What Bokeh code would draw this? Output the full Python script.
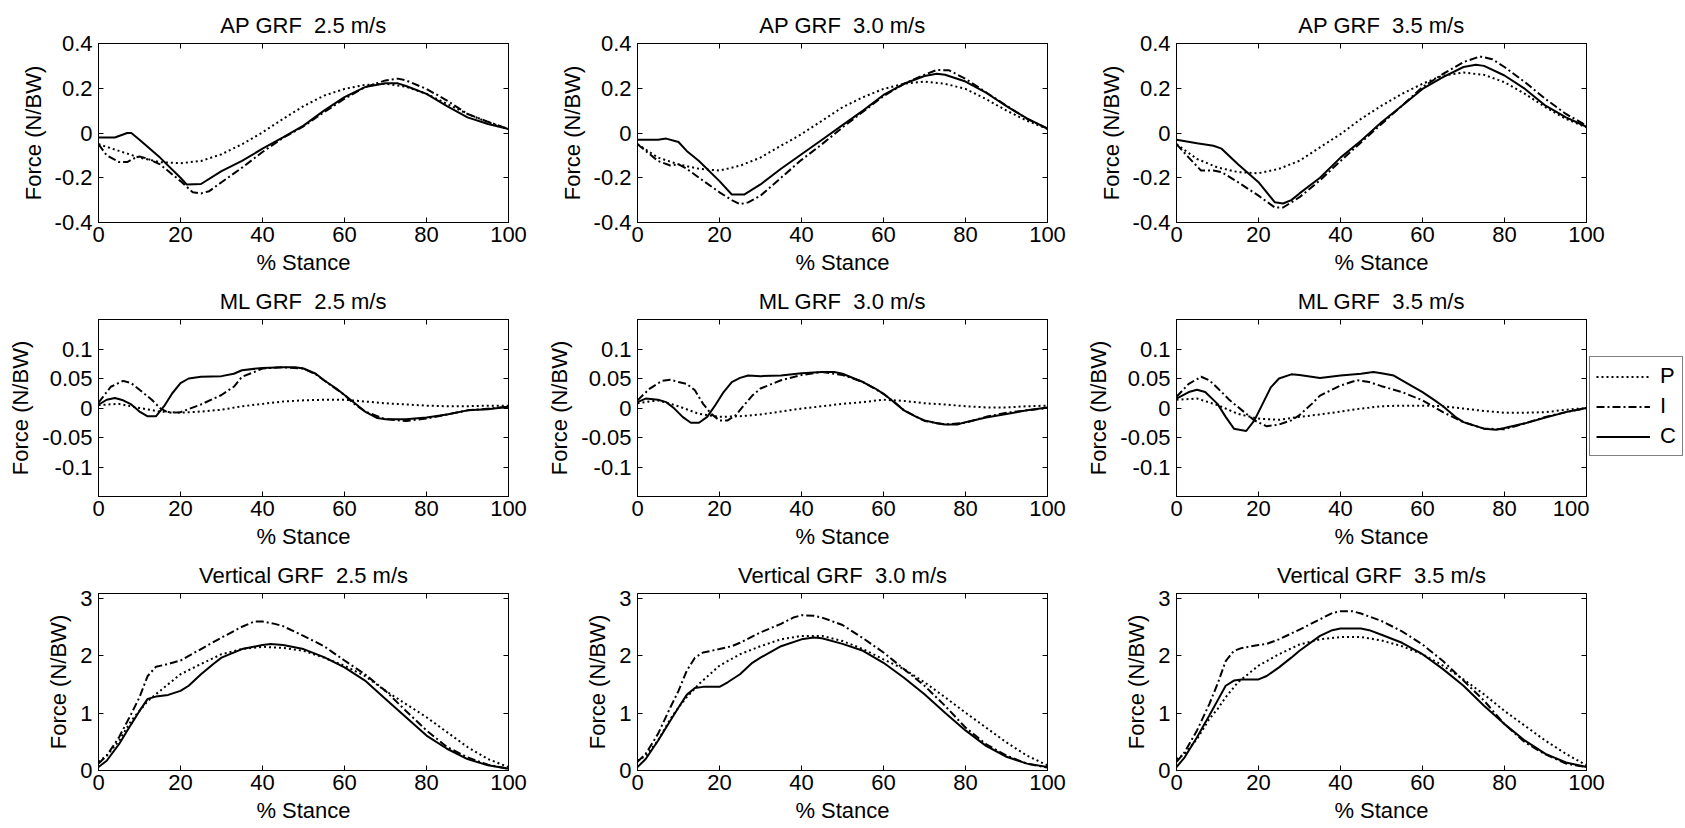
from bokeh.plotting import figure
from bokeh.layouts import column, row
from bokeh.models import (LinearAxis, FixedTicker, CustomJSTickFormatter, Range1d,
                          Legend, LegendItem)
from bokeh.embed import file_html
from bokeh.resources import INLINE

FONT = "Liberation Sans"

speeds = ["2.5", "3.0", "3.5"]
x_ticks = [0, 20, 40, 60, 80, 100]
ap_ticks = [-0.4, -0.2, 0, 0.2, 0.4]
ml_ticks = [-0.1, -0.05, 0, 0.05, 0.1]
vt_ticks = [0, 1, 2, 3]
ap_range = (-0.4, 0.4)
ml_range = (-0.15, 0.15)
vt_range = (0, 3.09)
legend_labels = ["P", "I", "C"]

# ---------------- AP GRF ----------------
AP25_P = [(0,-0.05),(5,-0.08),(10,-0.11),(15,-0.13),(20,-0.135),(25,-0.125),(30,-0.095),(35,-0.05),(40,0.003),(45,0.063),(50,0.12),(55,0.167),(60,0.197),(65,0.215),(70,0.22),(75,0.207),(80,0.175),(85,0.13),(90,0.085),(95,0.048),(100,0.018)]
AP25_I = [(0,-0.05),(2,-0.1),(5,-0.13),(7,-0.13),(9,-0.11),(10,-0.105),(12,-0.115),(15,-0.14),(20,-0.215),(23,-0.265),(25,-0.27),(27,-0.26),(30,-0.22),(35,-0.155),(40,-0.085),(45,-0.022),(50,0.03),(55,0.093),(60,0.153),(65,0.205),(70,0.235),(73,0.243),(75,0.235),(80,0.197),(85,0.145),(90,0.085),(95,0.05),(100,0.018)]
AP25_C = [(0,-0.02),(4,-0.02),(7,0.0),(8,0.0),(10,-0.03),(15,-0.11),(20,-0.2),(21.5,-0.23),(25,-0.228),(30,-0.17),(35,-0.125),(40,-0.07),(45,-0.02),(50,0.033),(55,0.1),(60,0.16),(65,0.205),(70,0.222),(73,0.222),(75,0.21),(80,0.175),(85,0.12),(90,0.07),(95,0.04),(100,0.018)]

AP30_P = [(0,-0.05),(5,-0.11),(10,-0.14),(15,-0.16),(20,-0.168),(25,-0.146),(30,-0.11),(35,-0.057),(40,-0.005),(45,0.055),(50,0.115),(55,0.16),(60,0.197),(65,0.22),(70,0.23),(75,0.22),(80,0.197),(85,0.152),(90,0.1),(95,0.055),(100,0.018)]
AP30_I = [(0,-0.05),(5,-0.125),(8,-0.145),(10,-0.14),(12,-0.16),(15,-0.2),(20,-0.265),(23,-0.3),(25,-0.318),(27,-0.31),(30,-0.28),(35,-0.2),(40,-0.12),(45,-0.05),(50,0.025),(55,0.095),(60,0.165),(65,0.22),(70,0.26),(73,0.282),(76,0.28),(80,0.242),(85,0.182),(90,0.122),(95,0.063),(100,0.02)]
AP30_C = [(0,-0.03),(5,-0.03),(7,-0.025),(10,-0.04),(12,-0.08),(15,-0.125),(20,-0.215),(23,-0.275),(26,-0.275),(30,-0.23),(35,-0.16),(40,-0.095),(45,-0.03),(50,0.035),(55,0.1),(60,0.17),(65,0.22),(70,0.255),(73,0.265),(75,0.26),(80,0.23),(85,0.18),(90,0.12),(95,0.065),(100,0.02)]

AP35_P = [(0,-0.05),(5,-0.116),(10,-0.154),(15,-0.175),(20,-0.18),(25,-0.16),(30,-0.124),(35,-0.064),(40,-0.005),(45,0.063),(50,0.122),(55,0.175),(60,0.22),(65,0.257),(70,0.27),(75,0.26),(80,0.227),(85,0.175),(90,0.115),(95,0.063),(100,0.025)]
AP35_I = [(0,-0.05),(3,-0.11),(6,-0.168),(9,-0.168),(11,-0.175),(15,-0.22),(20,-0.28),(24,-0.333),(26,-0.333),(28,-0.31),(30,-0.287),(35,-0.212),(40,-0.125),(45,-0.042),(50,0.04),(55,0.122),(60,0.205),(65,0.264),(70,0.317),(74,0.342),(77,0.33),(80,0.295),(85,0.227),(90,0.152),(95,0.085),(100,0.033)]
AP35_C = [(0,-0.03),(5,-0.046),(9,-0.057),(11,-0.07),(15,-0.14),(20,-0.22),(24,-0.31),(26,-0.315),(28,-0.3),(30,-0.27),(35,-0.2),(40,-0.11),(45,-0.035),(50,0.048),(55,0.122),(60,0.197),(65,0.25),(70,0.295),(73,0.305),(75,0.3),(80,0.257),(85,0.197),(90,0.122),(95,0.07),(100,0.028)]

# ---------------- ML GRF ----------------
ML25_P = [(0,0.005),(5,0.007),(10,0.0),(15,-0.006),(20,-0.008),(25,-0.006),(30,-0.003),(35,0.003),(40,0.007),(45,0.011),(50,0.013),(55,0.014),(60,0.014),(65,0.011),(70,0.008),(75,0.006),(80,0.004),(85,0.003),(90,0.003),(95,0.004),(100,0.004)]
ML25_I = [(0,0.009),(3,0.036),(6,0.046),(8,0.042),(10,0.031),(13,0.014),(15,0.0),(17,-0.008),(20,-0.007),(25,0.006),(30,0.022),(33,0.036),(35,0.053),(38,0.061),(40,0.067),(45,0.069),(50,0.067),(53,0.057),(55,0.047),(60,0.022),(62,0.009),(65,-0.006),(70,-0.019),(75,-0.022),(80,-0.018),(85,-0.011),(90,-0.004),(100,0.002)]
ML25_C = [(0,0.0055),(2,0.014),(4,0.017),(6,0.013),(8,0.006),(10,-0.006),(12,-0.014),(14,-0.014),(16,0.003),(18,0.025),(20,0.042),(22,0.05),(25,0.053),(30,0.054),(33,0.058),(35,0.064),(40,0.068),(45,0.069),(48,0.069),(50,0.067),(53,0.058),(55,0.047),(58,0.033),(60,0.022),(62,0.011),(65,-0.006),(68,-0.017),(70,-0.019),(75,-0.019),(80,-0.016),(85,-0.011),(90,-0.004),(95,-0.002),(100,0.002)]

ML30_P = [(0,0.008),(5,0.013),(10,0.003),(15,-0.01),(20,-0.015),(25,-0.014),(30,-0.011),(35,-0.006),(40,-0.001),(45,0.003),(50,0.007),(55,0.01),(60,0.014),(65,0.012),(70,0.008),(75,0.006),(80,0.003),(85,0.001),(90,0.001),(95,0.003),(100,0.004)]
ML30_I = [(0,0.013),(3,0.033),(6,0.046),(8,0.048),(10,0.044),(12,0.041),(14,0.03),(16,0.007),(18,-0.01),(20,-0.021),(22,-0.021),(24,-0.012),(26,0.005),(28,0.021),(30,0.033),(35,0.047),(40,0.056),(45,0.061),(50,0.056),(55,0.044),(60,0.024),(63,0.008),(65,-0.004),(70,-0.022),(75,-0.028),(80,-0.025),(85,-0.015),(90,-0.008),(95,-0.004),(100,0.0)]
ML30_C = [(0,0.01),(2,0.016),(5,0.014),(7,0.01),(9,-0.001),(11,-0.015),(13,-0.025),(15,-0.025),(17,-0.015),(19,0.005),(21,0.027),(23,0.044),(25,0.051),(27,0.055),(30,0.054),(35,0.055),(40,0.059),(45,0.061),(48,0.061),(50,0.058),(55,0.044),(58,0.033),(60,0.024),(62,0.013),(65,-0.004),(68,-0.015),(70,-0.021),(73,-0.026),(75,-0.028),(78,-0.028),(80,-0.024),(85,-0.016),(90,-0.01),(95,-0.004),(100,0.001)]

ML35_P = [(0,0.014),(5,0.016),(10,0.005),(15,-0.01),(20,-0.018),(25,-0.02),(30,-0.015),(35,-0.011),(40,-0.006),(45,-0.001),(50,0.003),(55,0.004),(60,0.004),(65,0.003),(70,-0.001),(75,-0.005),(80,-0.008),(85,-0.008),(90,-0.007),(95,-0.003),(100,0.0)]
ML35_I = [(0,0.019),(3,0.041),(6,0.053),(8,0.047),(10,0.034),(13,0.013),(16,-0.004),(19,-0.021),(22,-0.031),(25,-0.028),(28,-0.021),(30,-0.012),(33,0.007),(35,0.021),(40,0.038),(44,0.047),(47,0.044),(50,0.037),(55,0.027),(60,0.013),(65,-0.007),(70,-0.024),(75,-0.035),(80,-0.036),(85,-0.026),(90,-0.015),(95,-0.007),(100,0.0)]
ML35_C = [(0,0.016),(3,0.027),(5,0.031),(7,0.027),(10,0.007),(12,-0.015),(14,-0.035),(17,-0.039),(19,-0.021),(21,0.007),(23,0.035),(25,0.05),(28,0.057),(30,0.056),(35,0.051),(40,0.055),(45,0.058),(48,0.061),(50,0.059),(53,0.055),(55,0.047),(60,0.027),(63,0.013),(65,0.003),(68,-0.015),(70,-0.024),(75,-0.035),(78,-0.037),(80,-0.034),(85,-0.026),(90,-0.016),(95,-0.007),(100,0.0)]

# ---------------- Vertical GRF ----------------
VT25_P = [(0,0.15),(2,0.26),(5,0.52),(8,0.87),(10,1.04),(12,1.21),(15,1.39),(20,1.68),(25,1.86),(30,2.03),(35,2.12),(40,2.16),(45,2.14),(50,2.09),(55,1.97),(60,1.83),(65,1.65),(70,1.39),(75,1.16),(80,0.93),(85,0.67),(90,0.41),(95,0.2),(100,0.06)]
VT25_I = [(0,0.12),(2,0.26),(5,0.58),(8,0.99),(10,1.28),(12,1.65),(14,1.81),(17,1.86),(20,1.92),(25,2.12),(30,2.32),(35,2.51),(38,2.6),(40,2.6),(43,2.56),(45,2.52),(50,2.35),(55,2.17),(60,1.92),(65,1.68),(70,1.39),(75,1.04),(80,0.7),(85,0.41),(90,0.23),(95,0.1),(100,0.03)]
VT25_C = [(0,0.06),(2,0.17),(5,0.46),(8,0.81),(10,1.04),(12,1.25),(14,1.29),(17,1.32),(20,1.39),(22,1.48),(25,1.68),(28,1.86),(30,1.97),(35,2.12),(40,2.19),(42,2.21),(45,2.19),(50,2.12),(55,1.98),(60,1.8),(65,1.57),(70,1.25),(75,0.93),(80,0.61),(85,0.38),(90,0.2),(95,0.09),(100,0.03)]

VT30_P = [(0,0.17),(2,0.26),(5,0.52),(8,0.9),(10,1.1),(12,1.28),(15,1.51),(20,1.83),(25,2.03),(30,2.17),(35,2.29),(40,2.35),(45,2.35),(50,2.26),(55,2.12),(60,1.94),(65,1.77),(70,1.54),(75,1.28),(80,1.01),(85,0.75),(90,0.49),(95,0.26),(100,0.09)]
VT30_I = [(0,0.15),(2,0.29),(5,0.64),(8,1.1),(10,1.39),(12,1.74),(14,1.97),(16,2.06),(20,2.12),(23,2.17),(25,2.23),(30,2.41),(35,2.56),(38,2.67),(40,2.71),(43,2.7),(45,2.67),(50,2.54),(55,2.31),(60,2.06),(65,1.77),(70,1.48),(75,1.13),(80,0.75),(85,0.46),(90,0.26),(95,0.12),(100,0.05)]
VT30_C = [(0,0.06),(2,0.2),(5,0.52),(8,0.87),(10,1.1),(12,1.32),(14,1.44),(16,1.46),(20,1.46),(22,1.54),(25,1.68),(28,1.88),(30,1.97),(35,2.17),(40,2.29),(43,2.32),(45,2.31),(50,2.21),(55,2.09),(60,1.88),(65,1.62),(70,1.33),(75,1.01),(80,0.7),(85,0.43),(90,0.24),(95,0.12),(100,0.06)]

VT35_P = [(0,0.2),(2,0.29),(5,0.55),(8,0.9),(10,1.07),(12,1.28),(15,1.54),(20,1.83),(25,2.03),(30,2.2),(35,2.29),(40,2.33),(45,2.33),(50,2.27),(55,2.17),(60,2.03),(65,1.83),(70,1.59),(75,1.33),(80,1.04),(85,0.78),(90,0.52),(95,0.29),(100,0.09)]
VT35_I = [(0,0.15),(2,0.32),(5,0.7),(8,1.16),(10,1.51),(12,1.91),(14,2.09),(16,2.14),(20,2.19),(22,2.21),(25,2.29),(30,2.46),(35,2.64),(38,2.75),(40,2.78),(43,2.78),(45,2.74),(50,2.61),(55,2.43),(60,2.2),(65,1.91),(70,1.57),(75,1.22),(80,0.81),(85,0.49),(90,0.28),(95,0.12),(100,0.06)]
VT35_C = [(0,0.06),(2,0.23),(5,0.58),(8,0.96),(10,1.22),(12,1.48),(14,1.57),(16,1.59),(20,1.59),(22,1.65),(25,1.8),(28,1.97),(30,2.09),(35,2.35),(38,2.45),(40,2.48),(45,2.48),(47,2.45),(50,2.37),(55,2.23),(60,2.03),(65,1.77),(70,1.48),(75,1.13),(80,0.81),(85,0.52),(90,0.29),(95,0.14),(100,0.06)]

panels = [
    ("AP GRF", ap_range, ap_ticks, [(AP25_P, AP25_I, AP25_C), (AP30_P, AP30_I, AP30_C), (AP35_P, AP35_I, AP35_C)]),
    ("ML GRF", ml_range, ml_ticks, [(ML25_P, ML25_I, ML25_C), (ML30_P, ML30_I, ML30_C), (ML35_P, ML35_I, ML35_C)]),
    ("Vertical GRF", vt_range, vt_ticks, [(VT25_P, VT25_I, VT25_C), (VT30_P, VT30_I, VT30_C), (VT35_P, VT35_I, VT35_C)]),
]

# layout geometry (frame height, top border, bottom border) per row; (left, right) per column
row_geom = [(179, 43, 58), (177, 39, 58), (177, 39, 58)]
col_geom = [(98, 31), (98, 31), (98, 99)]
styles = [dict(line_dash="2 3"), dict(line_dash="8 3 2 3"), dict(line_dash="solid")]

FS = "22px"


def style_axis(ax, ticks, labels, axis_label=None):
    ax.ticker = FixedTicker(ticks=ticks)
    ax.major_tick_in = 5
    ax.major_tick_out = 0
    ax.minor_tick_line_color = None
    ax.axis_line_color = "black"
    ax.major_tick_line_color = "black"
    if labels:
        ax.formatter = CustomJSTickFormatter(code="return String(tick);")
        ax.major_label_text_font = FONT
        ax.major_label_text_font_size = FS
        ax.major_label_text_color = "black"
        ax.major_label_standoff = 4
        if axis_label:
            ax.axis_label = axis_label
            ax.axis_label_text_font = FONT
            ax.axis_label_text_font_size = FS
            ax.axis_label_text_font_style = "normal"
            ax.axis_label_text_color = "black"
            ax.axis_label_standoff = 5
    else:
        ax.major_label_text_font_size = "1px"
        ax.major_label_text_color = None
        ax.major_label_text_alpha = 0
        ax.major_label_standoff = 0


def xy(data):
    return [d[0] for d in data], [d[1] for d in data]


rows = []
for ri, (name, yr, yt, series_by_speed) in enumerate(panels):
    fh, bt, bb = row_geom[ri]
    figs = []
    for ci, sp in enumerate(speeds):
        bl, br = col_geom[ci]
        with_legend = (ri == 1 and ci == 2)
        p = figure(frame_width=410, frame_height=fh,
                   x_range=Range1d(0, 100), y_range=Range1d(*yr),
                   output_backend="svg", toolbar_location=None,
                   min_border_left=bl, min_border_right=(3 if with_legend else br),
                   min_border_top=bt, min_border_bottom=bb,
                   background_fill_color="white", border_fill_color="white")
        p.grid.visible = False
        p.outline_line_color = "black"
        p.outline_line_width = 1
        # double gap between name and speed, as in the original (non-breaking so it survives SVG)
        p.title.text = f"{name}\u00a0 {sp} m/s"
        p.title.align = "center"
        p.title.text_font = FONT
        p.title.text_font_size = FS
        p.title.text_font_style = "normal"
        p.title.text_color = "black"
        p.title.standoff = 11
        style_axis(p.xaxis[0], x_ticks, True, "% Stance")
        style_axis(p.yaxis[0], yt, True, "Force (N/BW)")
        p.yaxis[0].major_label_standoff = 6
        p.yaxis[0].axis_label_standoff = 6
        top = LinearAxis()
        style_axis(top, x_ticks, False)
        p.add_layout(top, "above")
        right = LinearAxis()
        style_axis(right, yt, False)
        p.add_layout(right, "right")
        for data, st in zip(series_by_speed[ci], styles):
            xs, ys = xy(data)
            p.line(xs, ys, line_color="black", line_width=2, **st)
        figs.append(p)
        if with_legend:
            # narrow panel right of the ML 3.5 m/s axes that carries the legend
            lp = figure(frame_width=96, frame_height=fh,
                        x_range=Range1d(0, 100), y_range=Range1d(*yr),
                        output_backend="svg", toolbar_location=None,
                        x_axis_location=None, y_axis_location=None,
                        min_border_left=0, min_border_right=0,
                        min_border_top=bt, min_border_bottom=bb,
                        background_fill_color="white", border_fill_color="white",
                        outline_line_color=None)
            lp.grid.visible = False
            lrs = []
            for data, st in zip(series_by_speed[ci], styles):
                xs, ys = xy(data)
                lrs.append(lp.line(xs, ys, line_color="black", line_width=2, visible=False, **st))
            leg = Legend(items=[LegendItem(label=lab, renderers=[r]) for lab, r in zip(legend_labels, lrs)],
                         location=(0, 40), margin=0, padding=6, spacing=4,
                         glyph_width=54, glyph_height=23, label_height=23, label_width=15,
                         label_standoff=10, label_text_font=FONT, label_text_font_size=FS,
                         label_text_color="black",
                         border_line_color="black", border_line_width=1,
                         background_fill_color="white", background_fill_alpha=1.0)
            lp.add_layout(leg, "center")
            figs.append(lp)
    rows.append(row(*figs, spacing=0))

layout = column(*rows, spacing=0)
open("out.html", "w").write(file_html(layout, INLINE))
